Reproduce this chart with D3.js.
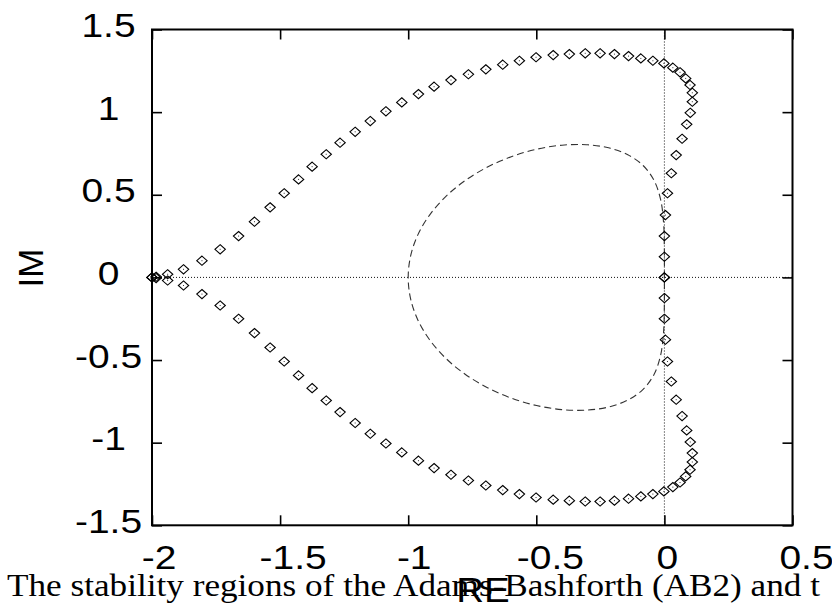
<!DOCTYPE html>
<html>
<head>
<meta charset="utf-8">
<script src="https://cdn.jsdelivr.net/npm/d3@7"></script>
<style>
  html, body { margin: 0; padding: 0; background: #fff; }
  svg { display: block; }
  .tick-label { font-family: "Liberation Sans", Arial, sans-serif; font-size: 33px; fill: #000; }
  .axis-title { font-family: "Liberation Sans", Arial, sans-serif; font-size: 35px; fill: #000; }
  .caption { font-family: "Liberation Serif", "Times New Roman", serif; font-size: 31px; fill: #000; }
</style>
</head>
<body>
<div id="svg-container"></div>
<script>
////////////////////////////////////////////////////////////////////
////////////////////////////  Data  ////////////////////////////////
const xTicks = [-2, -1.5, -1, -0.5, 0, 0.5];
const yTicks = [-1.5, -1, -0.5, 0, 0.5, 1, 1.5];

// AB2 boundary (dashed line), once round the loop
const ab2Re = [0, -0.0002, -0.0033, -0.0149, -0.0405, -0.0831, -0.1429, -0.2179, -0.3049, -0.4,
  -0.499, -0.5978, -0.6923, -0.7791, -0.8547, -0.9166, -0.9624, -0.9905, -1,
  -0.9905, -0.9624, -0.9166, -0.8547, -0.7791, -0.6923, -0.5978, -0.499,
  -0.4, -0.3049, -0.2179, -0.1429, -0.0831, -0.0405, -0.0149, -0.0033, -0.0002, 0];
const ab2Im = [0, 0.1724, 0.3326, 0.4721, 0.5871, 0.677, 0.7423, 0.7841, 0.8031, 0.8,
  0.7754, 0.7304, 0.6662, 0.5844, 0.4873, 0.3772, 0.2572, 0.1303, 0,
  -0.1303, -0.2572, -0.3772, -0.4873, -0.5844, -0.6662, -0.7304, -0.7754,
  -0.8, -0.8031, -0.7841, -0.7423, -0.677, -0.5871, -0.4721, -0.3326, -0.1724, 0];

// diamonds, upper branch (0 -> top -> -2)
const upperRe = [0, 0, 0, 0.004, 0.012, 0.027, 0.046, 0.069, 0.087, 0.101,
  0.109, 0.109, 0.1, 0.083, 0.061, 0.033, -0.002, -0.045, -0.092, -0.14,
  -0.195, -0.251, -0.309, -0.371, -0.434, -0.501, -0.566, -0.631, -0.697, -0.765,
  -0.833, -0.899, -0.96, -1.025, -1.087, -1.148, -1.207, -1.266, -1.32, -1.375,
  -1.428, -1.484, -1.539, -1.6, -1.662, -1.734, -1.805, -1.877, -1.939, -1.984, -2];
const upperIm = [0, 0.125, 0.25, 0.377, 0.509, 0.63, 0.74, 0.839, 0.926, 0.996,
  1.063, 1.117, 1.164, 1.204, 1.241, 1.269, 1.295, 1.311, 1.325, 1.339,
  1.351, 1.356, 1.356, 1.351, 1.345, 1.332, 1.311, 1.287, 1.259, 1.229,
  1.194, 1.154, 1.109, 1.059, 1.005, 0.946, 0.881, 0.815, 0.745, 0.67,
  0.593, 0.509, 0.424, 0.337, 0.25, 0.17, 0.101, 0.049, 0.019, 0.004, 0];

// diamonds, lower branch (-2 -> bottom -> 0)
const lowerRe = [-2, -1.984, -1.939, -1.877, -1.805, -1.734, -1.662, -1.6, -1.539, -1.484,
  -1.428, -1.375, -1.32, -1.266, -1.207, -1.148, -1.087, -1.025, -0.96, -0.899,
  -0.833, -0.765, -0.697, -0.631, -0.566, -0.501, -0.434, -0.371, -0.309, -0.251,
  -0.195, -0.14, -0.092, -0.045, -0.002, 0.033, 0.061, 0.083, 0.1, 0.109,
  0.109, 0.101, 0.087, 0.069, 0.046, 0.027, 0.012, 0.004, 0, 0, 0];
const lowerIm = [0, -0.004, -0.019, -0.049, -0.101, -0.17, -0.25, -0.337, -0.424, -0.509,
  -0.593, -0.67, -0.745, -0.815, -0.881, -0.946, -1.005, -1.059, -1.109, -1.154,
  -1.194, -1.229, -1.259, -1.287, -1.311, -1.332, -1.345, -1.351, -1.356, -1.356,
  -1.351, -1.339, -1.325, -1.311, -1.295, -1.269, -1.241, -1.204, -1.164, -1.117,
  -1.063, -0.996, -0.926, -0.839, -0.74, -0.63, -0.509, -0.377, -0.25, -0.125, 0];

const captionText = "The stability regions of the Adams-Bashforth (AB2) and t";

////////////////////////////////////////////////////////////////////
////////////////////////////  Init  ////////////////////////////////
const width = 832;
const height = 607;
const margin = { top: 29.5, right: 39.5, bottom: 81.7, left: 152 };
const labelStretch = 1.18;
// nudges of the x tick labels, as placed in the original
const xLabelDx = [7, 13, 6, 14, 3, 14];

const svg = d3.select("#svg-container").append("svg")
  .attr("width", width)
  .attr("height", height);

const xScale = d3.scaleLinear().domain([-2, 0.5]).range([margin.left, width - margin.right]);
const yScale = d3.scaleLinear().domain([-1.5, 1.5]).range([height - margin.bottom, margin.top]);

const toPoints = (re, im) => re.map((d, i) => [d, im[i]]);

// zero lines (dotted)
svg.append("line")
  .attr("x1", xScale(-2)).attr("x2", xScale(0.5))
  .attr("y1", yScale(0)).attr("y2", yScale(0))
  .attr("stroke", "#111").attr("stroke-width", 1).attr("stroke-dasharray", "1,2");
svg.append("line")
  .attr("x1", xScale(0)).attr("x2", xScale(0))
  .attr("y1", yScale(1.5)).attr("y2", yScale(-1.5))
  .attr("stroke", "#111").attr("stroke-width", 1).attr("stroke-dasharray", "1,2");

// AB2 dashed curve
const line = d3.line()
  .curve(d3.curveCatmullRom)
  .x((d) => xScale(d[0]))
  .y((d) => yScale(d[1]));

svg.append("path")
  .datum(toPoints(ab2Re, ab2Im))
  .attr("d", line)
  .attr("fill", "none")
  .attr("stroke", "#333")
  .attr("stroke-width", 1.1)
  .attr("stroke-dasharray", "7,4");

// diamonds
const diamonds = toPoints(upperRe, upperIm).concat(toPoints(lowerRe, lowerIm));
const marks = svg.append("g").selectAll("g")
  .data(diamonds)
  .join("g")
  .attr("transform", (d) => `translate(${xScale(d[0])},${yScale(d[1])})`);
marks.append("path")
  .attr("d", "M0,-4.6L5.2,0L0,4.6L-5.2,0Z")
  .attr("fill", "none")
  .attr("stroke", "#000")
  .attr("stroke-width", 1.1);
marks.append("rect")
  .attr("x", -0.5).attr("y", -0.5).attr("width", 1).attr("height", 1)
  .attr("fill", "#333");

// axes (ticks inward on all four sides)
const bottom = height - margin.bottom;
const xAxisB = svg.append("g").attr("transform", `translate(0,${bottom})`)
  .call(d3.axisBottom(xScale).tickValues(xTicks).tickSize(-10).tickFormat(""));
const xAxisT = svg.append("g").attr("transform", `translate(0,${margin.top})`)
  .call(d3.axisTop(xScale).tickValues(xTicks).tickSize(-10).tickFormat(""));
const yAxisL = svg.append("g").attr("transform", `translate(${margin.left},0)`)
  .call(d3.axisLeft(yScale).tickValues(yTicks).tickSize(-10).tickFormat(""));
const yAxisR = svg.append("g").attr("transform", `translate(${width - margin.right},0)`)
  .call(d3.axisRight(yScale).tickValues(yTicks).tickSize(-10).tickFormat(""));

[xAxisB, xAxisT, yAxisL, yAxisR].forEach((g) => {
  g.select(".domain").remove();
  g.selectAll(".tick line").attr("stroke", "#000").attr("stroke-width", 1.6);
  g.selectAll(".tick text").remove();
});

// frame
svg.append("rect")
  .attr("x", xScale(-2)).attr("y", yScale(1.5))
  .attr("width", xScale(0.5) - xScale(-2))
  .attr("height", yScale(-1.5) - yScale(1.5))
  .attr("fill", "none")
  .attr("stroke", "#000")
  .attr("stroke-width", 2);

// tick labels
svg.append("g").selectAll("text")
  .data(xTicks)
  .join("text")
  .attr("class", "tick-label")
  .attr("text-anchor", "middle")
  .attr("transform", (d, i) => `translate(${xScale(d) + xLabelDx[i]},${bottom + 43.5}) scale(${labelStretch},1)`)
  .text((d) => String(d));

svg.append("g").selectAll("text")
  .data(yTicks)
  .join("text")
  .attr("class", "tick-label")
  .attr("text-anchor", "middle")
  .attr("transform", (d) => `translate(108.5,${yScale(d) + 7.5}) scale(${labelStretch},1)`)
  .text((d) => String(d));

// axis titles
svg.append("text")
  .attr("class", "axis-title")
  .attr("text-anchor", "middle")
  .attr("transform", `translate(483,602) scale(1.1,1)`)
  .text("RE");

svg.append("text")
  .attr("class", "axis-title")
  .attr("text-anchor", "middle")
  .attr("transform", `translate(43,268) rotate(-90)`)
  .text("IM");

// caption (runs off the right edge in the original)
svg.append("text")
  .attr("class", "caption")
  .attr("x", 7)
  .attr("y", 596)
  .attr("textLength", 813)
  .attr("lengthAdjust", "spacingAndGlyphs")
  .text(captionText);
</script>
</body>
</html>
